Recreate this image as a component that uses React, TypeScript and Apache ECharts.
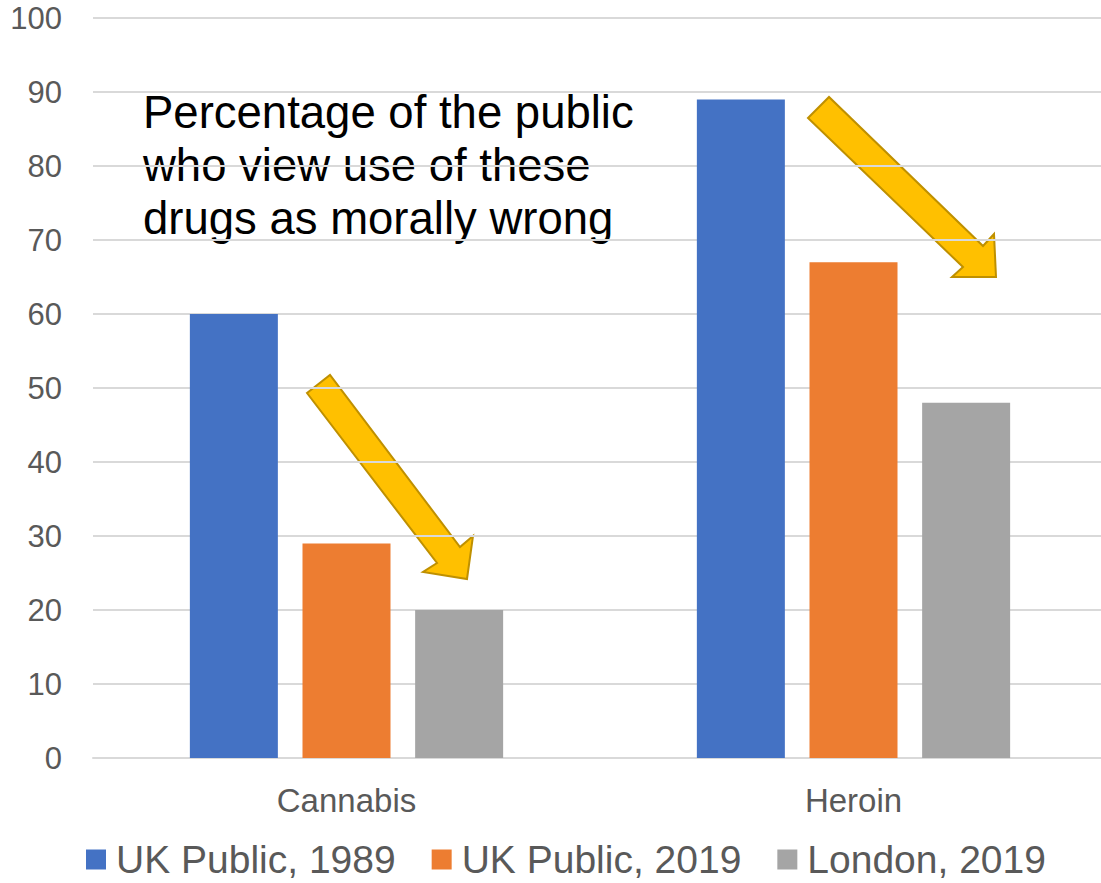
import React, { useEffect, useRef } from "react";
import * as echarts from "echarts";

const categories = ["Cannabis", "Heroin"];
const seriesNames = ["UK Public, 1989", "UK Public, 2019", "London, 2019"];
const uk1989 = [60, 89];
const uk2019 = [29, 67];
const london2019 = [20, 48];
const colors = ["#4472C4", "#ED7D31", "#A5A5A5"];
const yTicks = { min: 0, max: 100, interval: 10 };
const titleLines = ["Percentage of the public", "who view use of these", "drugs as morally wrong"];

export default function App() {
  const ref = useRef<HTMLDivElement>(null);
  useEffect(() => {
    if (!ref.current) return;
    const chart = echarts.init(ref.current, null, { renderer: "svg" });
    const font = "'Liberation Sans', Arial, Helvetica, sans-serif";
    const arrowStyle = { fill: "#FFC000", stroke: "#BF9000", lineWidth: 2 };
    const data = [uk1989, uk2019, london2019];
    chart.setOption({
      animation: false,
      textStyle: { fontFamily: font },
      grid: {
        left: 93,
        width: 1014,
        top: 18,
        bottom: 125,
        containLabel: false,
        outerBoundsMode: "none",
      },
      legend: {
        top: 840,
        left: 86,
        padding: 0,
        itemWidth: 20,
        itemHeight: 20,
        itemGap: 36,
        icon: "rect",
        textStyle: {
          fontSize: 39,
          lineHeight: 38,
          color: "#595959",
          fontFamily: font,
          padding: [0, 0, 0, 5],
        },
        data: seriesNames,
      },
      xAxis: {
        type: "category",
        data: categories,
        axisTick: { show: false },
        axisLine: { lineStyle: { color: "#D9D9D9", width: 2 } },
        axisLabel: { fontSize: 33, color: "#595959", margin: 26, fontFamily: font },
      },
      yAxis: {
        type: "value",
        min: yTicks.min,
        max: yTicks.max,
        interval: yTicks.interval,
        axisLine: { show: false },
        axisTick: { show: false },
        splitLine: { lineStyle: { color: "#D9D9D9", width: 2 } },
        axisLabel: { fontSize: 31, color: "#595959", margin: 31, fontFamily: font },
      },
      series: seriesNames.map((name, i) => ({
        name,
        type: "bar",
        data: data[i],
        itemStyle: { color: colors[i] },
        barWidth: 88,
        barGap: "28%",
      })),
      graphic: [
        {
          type: "text",
          left: 143,
          top: 86,
          style: {
            text: titleLines.join("\n"),
            fontSize: 45.5,
            lineHeight: 53,
            fill: "#000000",
            fontFamily: font,
          },
        },
        {
          type: "polygon",
          shape: {
            points: [
              [307, 393],
              [330, 375],
              [460, 547],
              [473, 536],
              [467, 579],
              [423, 572],
              [437, 563],
            ],
          },
          style: arrowStyle,
        },
        {
          type: "polygon",
          shape: {
            points: [
              [808, 118],
              [829, 97],
              [983, 246],
              [994, 234],
              [996, 277],
              [952, 277],
              [963, 267],
            ],
          },
          style: arrowStyle,
        },
      ],
    });
    return () => chart.dispose();
  }, []);
  return (
    <div
      ref={ref}
      style={{ position: "absolute", left: 0, top: 0, width: 1101, height: 883, background: "#fff" }}
    />
  );
}
